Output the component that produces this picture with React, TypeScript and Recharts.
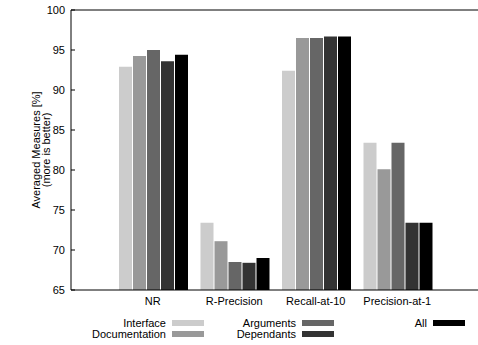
import { BarChart, Bar, XAxis, YAxis, ReferenceLine } from "recharts";

const categories = ["NR", "R-Precision", "Recall-at-10", "Precision-at-1"];
const interfaceValues = [92.9, 73.4, 92.4, 83.4];
const documentationValues = [94.25, 71.1, 96.5, 80.1];
const argumentsValues = [95.0, 68.5, 96.5, 83.4];
const dependantsValues = [93.6, 68.4, 96.7, 73.4];
const allValues = [94.4, 69.0, 96.7, 73.4];
const yTicks = [65, 70, 75, 80, 85, 90, 95, 100];

const series = [
  { key: "Interface", values: interfaceValues, color: "#cccccc" },
  { key: "Documentation", values: documentationValues, color: "#999999" },
  { key: "Arguments", values: argumentsValues, color: "#666666" },
  { key: "Dependants", values: dependantsValues, color: "#333333" },
  { key: "All", values: allValues, color: "#000000" },
];

const data = categories.map((name, i) => {
  const row: Record<string, string | number> = { name };
  series.forEach((s) => {
    row[s.key] = s.values[i];
  });
  return row;
});

const FONT = "'Liberation Sans', Arial, Helvetica, sans-serif";
const PLOT_LEFT = 71;
const PLOT_RIGHT = 479;

// legend slots: text right edge and row
const legendSlots = [
  { x: 166, row: 0 },
  { x: 166, row: 1 },
  { x: 296, row: 0 },
  { x: 296, row: 1 },
  { x: 427, row: 0 },
];

const LeftTick = (props: any) => {
  const { y, payload } = props;
  return (
    <g>
      <text x={65} y={y} dy={4} textAnchor="end" fontSize={11} fill="#000" fontFamily={FONT}>
        {payload.value}
      </text>
      <line x1={PLOT_LEFT} x2={PLOT_LEFT + 4} y1={y} y2={y} stroke="#000" />
    </g>
  );
};

const RightTick = (props: any) => {
  const { y } = props;
  return <line x1={PLOT_RIGHT - 4} x2={PLOT_RIGHT} y1={y} y2={y} stroke="#000" />;
};

const BottomTick = (props: any) => {
  const { x, payload } = props;
  return (
    <text x={x} y={305} textAnchor="middle" fontSize={11} fill="#000" fontFamily={FONT}>
      {payload.value}
    </text>
  );
};

export default function App() {
  return (
    <div
      style={{
        position: "absolute",
        left: 0,
        top: 0,
        width: 478,
        height: 345,
        overflow: "hidden",
        background: "#fff",
      }}
    >
      <BarChart
        width={490}
        height={345}
        data={data}
        margin={{ top: 10, right: 11, left: 0, bottom: 35 }}
        barCategoryGap={7}
        barGap={1}
      >
        <XAxis
          dataKey="name"
          height={20}
          padding={{ left: 41, right: 41 }}
          tickLine={false}
          axisLine={{ stroke: "#000" }}
          tick={<BottomTick />}
          interval={0}
        />
        <YAxis
          yAxisId="left"
          width={71}
          domain={[65, 100]}
          ticks={yTicks}
          tickSize={0}
          axisLine={{ stroke: "#000" }}
          tick={<LeftTick />}
        />
        <YAxis
          yAxisId="right"
          orientation="right"
          width={0}
          domain={[65, 100]}
          ticks={yTicks}
          tickSize={0}
          axisLine={{ stroke: "#000" }}
          tick={<RightTick />}
        />
        <ReferenceLine yAxisId="left" y={100} stroke="#000" />
        {series.map((s) => (
          <Bar
            key={s.key}
            yAxisId="left"
            dataKey={s.key}
            fill={s.color}
            isAnimationActive={false}
          />
        ))}
      </BarChart>
      <svg
        width={478}
        height={345}
        style={{ position: "absolute", left: 0, top: 0, pointerEvents: "none" }}
        fontFamily={FONT}
      >
        <g transform="translate(40,150) rotate(-90)">
          <text textAnchor="middle" fontSize={11} fill="#000">
            Averaged Measures [%]
          </text>
        </g>
        <g transform="translate(50,150) rotate(-90)">
          <text textAnchor="middle" fontSize={11} fill="#000">
            (more is better)
          </text>
        </g>
        {series.map((s, i) => {
          const slot = legendSlots[i];
          const cy = 323 + slot.row * 11;
          return (
            <g key={s.key}>
              <text x={slot.x} y={cy + 4} textAnchor="end" fontSize={11} fill="#000">
                {s.key}
              </text>
              <rect x={slot.x + 6} y={cy - 3} width={32} height={6} fill={s.color} />
            </g>
          );
        })}
      </svg>
    </div>
  );
}
